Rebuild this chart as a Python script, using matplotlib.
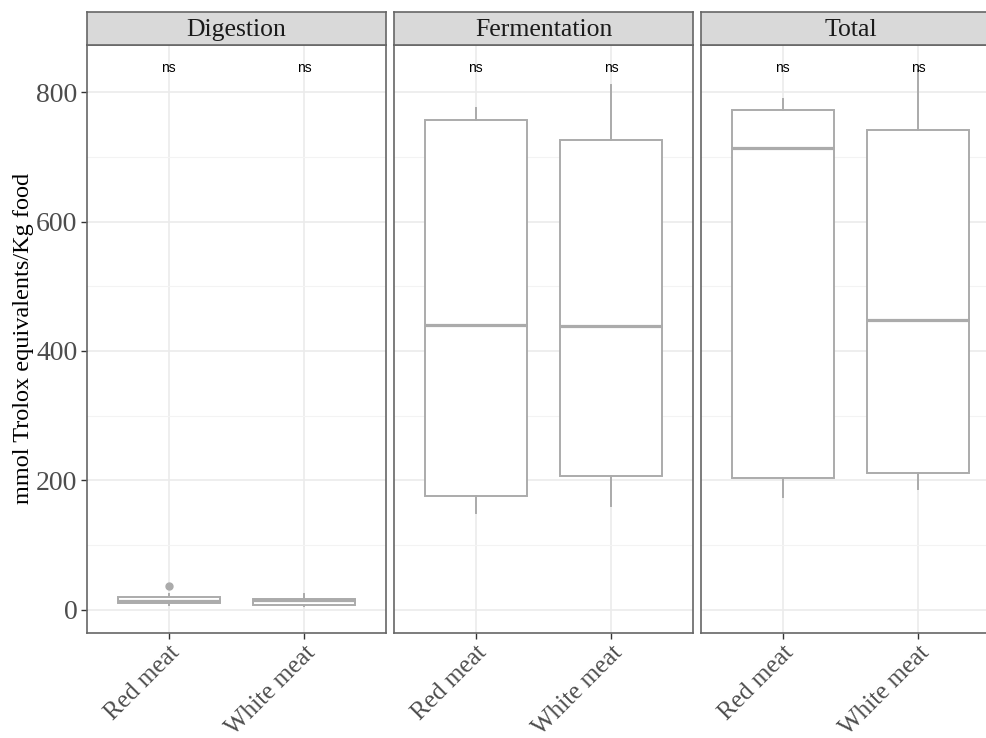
import matplotlib.pyplot as plt
from matplotlib.ticker import MultipleLocator

# dados
paineis = ["Digestion", "Fermentation", "Total"]
grupos = ["Red meat", "White meat"]

# estatisticas por painel: [Red meat, White meat]
q1 = [[11, 8], [176, 206], [204, 212]]
mediana = [[14, 15], [440, 438], [713, 448]]
q3 = [[20, 17], [757, 726], [772, 741]]
bigode_inf = [[8, 6], [149, 161], [175, 186]]
bigode_sup = [[25, 25], [775, 811], [789, 834]]
outliers = [[[37], []], [[], []], [[], []]]

rotulo_sig = "ns"
y_sig = 837

plt.rcParams["font.family"] = ["Liberation Serif", "DejaVu Serif"]

fig = plt.figure(figsize=(9.87, 7.38), dpi=100)

cinza = "#ababab"
esq = 87 / 987
larg = 299 / 987
gap = 8 / 987
base = 1 - 633 / 738
alt = (633 - 45) / 738
strip_h = 33 / 738

for i, painel in enumerate(paineis):
    ax = fig.add_axes([esq + i * (larg + gap), base, larg, alt])
    stats = []
    for j, g in enumerate(grupos):
        stats.append({
            "med": mediana[i][j], "q1": q1[i][j], "q3": q3[i][j],
            "whislo": bigode_inf[i][j], "whishi": bigode_sup[i][j],
            "fliers": outliers[i][j], "label": g,
        })
    ax.bxp(stats, positions=[1, 2], widths=0.75, patch_artist=True,
           boxprops=dict(facecolor="white", edgecolor=cinza, linewidth=1.4),
           medianprops=dict(color=cinza, linewidth=2.3),
           whiskerprops=dict(color=cinza, linewidth=1.4),
           capprops=dict(linewidth=0),
           flierprops=dict(marker="o", markerfacecolor=cinza, markeredgecolor=cinza, markersize=5),
           zorder=3)
    ax.set_xlim(0.4, 2.6)
    ax.set_ylim(-36, 873)
    ax.yaxis.set_major_locator(MultipleLocator(200))
    ax.yaxis.set_minor_locator(MultipleLocator(100))
    ax.grid(True, which="major", color="#ebebeb", linewidth=1.2, zorder=0)
    ax.grid(True, which="minor", axis="y", color="#f3f3f3", linewidth=0.8, zorder=0)
    ax.set_axisbelow(True)
    for s in ax.spines.values():
        s.set_color("#666666")
        s.set_linewidth(1.2)
    ax.tick_params(which="minor", length=0)
    ax.tick_params(which="major", color="#333333", length=4, width=1.0, labelcolor="#4d4d4d")
    ax.set_xticks([1, 2])
    ax.set_xticklabels(grupos, rotation=45, ha="right", rotation_mode="anchor", fontsize=18)
    ax.tick_params(axis="x", pad=2)
    if i == 0:
        ax.tick_params(axis="y", labelsize=20, pad=3)
    else:
        ax.tick_params(axis="y", left=False, labelleft=False)
    for x in [1, 2]:
        ax.text(x, y_sig, rotulo_sig, ha="center", va="center", fontsize=10,
                family="Liberation Sans", color="black", zorder=4)
    # faixa do titulo do painel
    strip = fig.add_axes([esq + i * (larg + gap), base + alt, larg, strip_h])
    strip.set_facecolor("#d9d9d9")
    strip.set_xticks([])
    strip.set_yticks([])
    for s in strip.spines.values():
        s.set_color("#666666")
        s.set_linewidth(1.2)
    strip.text(0.5, 0.45, painel, ha="center", va="center", fontsize=18.5, color="#1a1a1a",
               transform=strip.transAxes)

# titulo do eixo y
fig.text(24 / 987, 1 - 338 / 738, "mmol Trolox equivalents/Kg food", rotation=90,
         ha="center", va="center", fontsize=17.5)

fig.savefig("out.png", dpi=100)
